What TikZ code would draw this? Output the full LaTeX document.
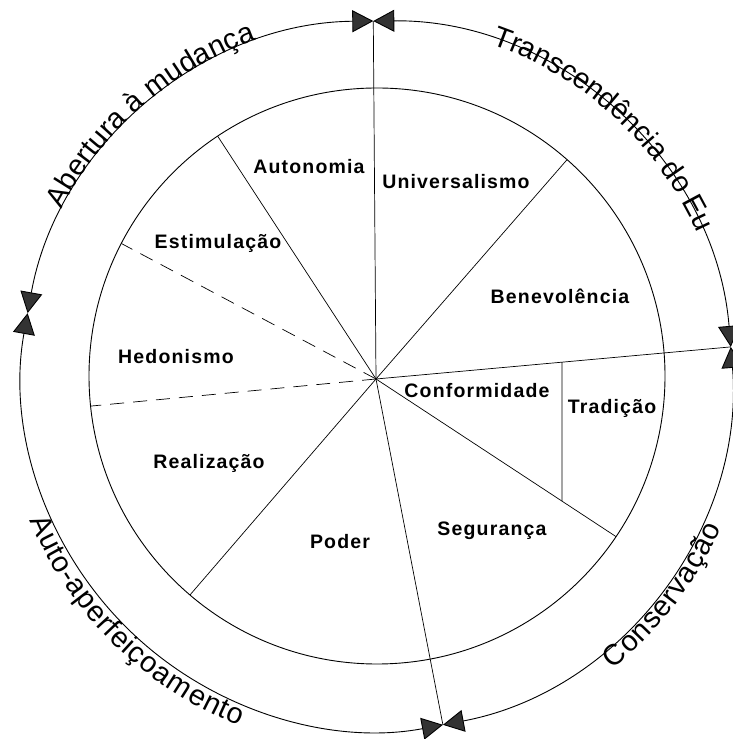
\documentclass[tikz,border=0pt]{standalone}
\usepackage{fontspec}
\setmainfont{Liberation Sans}
\newfontfamily\valuefont[LetterSpace=6]{Liberation Sans}
\usepackage{tikz}
\usetikzlibrary{arrows.meta}
\usetikzlibrary{decorations.text}
\newcommand{\arcfont}{\fontsize{29}{32}\selectfont}
\tikzset{
  valuelabel/.style={font=\valuefont\bfseries\fontsize{19.5}{22}\selectfont},
  ringarc/.style={line width=0.9pt, {Triangle[length=21pt,width=22pt,fill=black!80]}-{Triangle[length=21pt,width=22pt,fill=black!80]}},
  spoke/.style={line width=0.7pt},
  dashspoke/.style={line width=0.7pt, dash pattern=on 14pt off 9pt}
}

\begin{document}
\begin{tikzpicture}[x=1pt, y=1pt]
\useasboundingbox (0,0) rectangle (732,739);
\begin{scope}[shift={(377,363)}]
\coordinate (hub) at (-1,-3);
\coordinate (north) at (90.6:355);
\coordinate (east) at (4.7:355);
\coordinate (south) at (-79.3:355);
\coordinate (autest) at (123.6:288);
\coordinate (esthed) at (152.6:288);
\coordinate (hedrea) at (186:288);
\coordinate (reapod) at (229.5:288);
\coordinate (segtra) at (-33.9:288);
\coordinate (unibev) at (48.7:288);
\coordinate (tA) at (185,100);
\coordinate (tB) at (185,-300);
\coordinate (tradtop) at (intersection of hub--east and tA--tB);
\coordinate (tradbot) at (intersection of hub--segtra and tA--tB);

\draw[line width=0.9pt] (0,0) circle (288);
\draw[ringarc] (90.6:355) arc (90.6:169.8:355);
\draw[ringarc] (169.8:355) arc (169.8:280.7:355);
\draw[ringarc] (280.7:355) arc (280.7:364.7:355);
\draw[ringarc] (4.7:355) arc (4.7:90.6:355);

\draw[spoke] (hub) -- (north);
\draw[spoke] (hub) -- (east);
\draw[spoke] (hub) -- (south);
\draw[spoke] (hub) -- (autest);
\draw[dashspoke] (hub) -- (esthed);
\draw[dashspoke] (hub) -- (hedrea);
\draw[spoke] (hub) -- (reapod);
\draw[spoke] (hub) -- (segtra);
\draw[spoke] (hub) -- (unibev);
\draw[spoke] (tradtop) -- (tradbot);

\node[valuelabel] (universalismo) at (79,194) {Universalismo};
\node[valuelabel] (autonomia) at (-68,209) {Autonomia};
\node[valuelabel] (estimulacao) at (-159,133) {Estimulação};
\node[valuelabel] (benevolencia) at (183,80) {Benevolência};
\node[valuelabel] (hedonismo) at (-201,19) {Hedonismo};
\node[valuelabel] (conformidade) at (100,-15) {Conformidade};
\node[valuelabel] (tradicao) at (235,-32) {Tradição};
\node[valuelabel] (realizacao) at (-168,-87) {Realização};
\node[valuelabel] (poder) at (-37,-166) {Poder};
\node[valuelabel] (seguranca) at (115,-155) {Segurança};

\path[decorate, decoration={text along path, text align=center, raise=2pt, text={|\arcfont|Abertura à mudança}}] (160:355) arc (160:102:355);
\path[decorate, decoration={text along path, text align=center, raise=-4pt, text={|\arcfont|Transcendência do Eu}}] (80:355) arc (80:15:355);
\path[decorate, decoration={text along path, text align=center, raise=-21pt, text={|\arcfont|Auto-aperfeiçoamento}}] (198:355) arc (198:253:355);
\path[decorate, decoration={text along path, text align=center, raise=-21pt, text={|\arcfont|Conservação}}] (-58:355) arc (-58:-17:355);
\end{scope}
\end{tikzpicture}
\end{document}
